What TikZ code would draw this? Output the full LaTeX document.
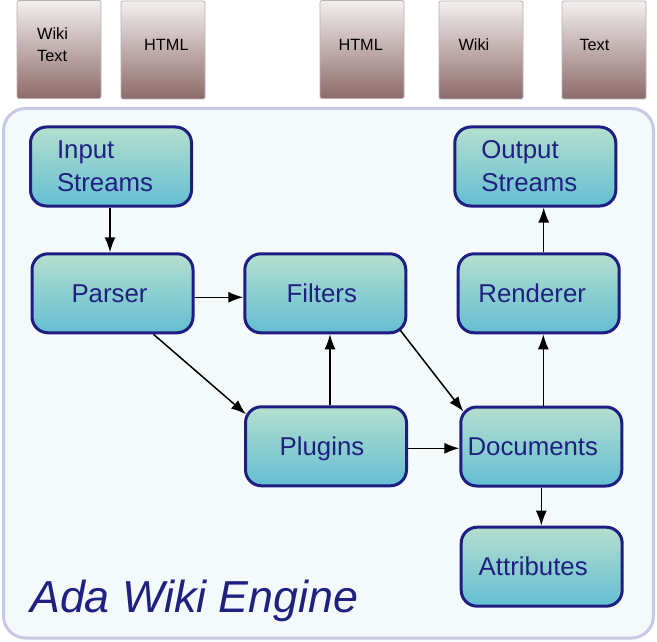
\documentclass[tikz,border=0pt]{standalone}
\usepackage{fontspec}
\setmainfont{Liberation Sans}
\usetikzlibrary{arrows.meta}
\definecolor{navyline}{RGB}{30,30,130}
\definecolor{navytext}{RGB}{32,32,128}
\definecolor{boxtop}{RGB}{180,223,206}
\definecolor{boxbot}{RGB}{100,190,210}
\definecolor{doctop}{RGB}{243,239,239}
\definecolor{docbot}{RGB}{142,106,106}
\definecolor{docline}{RGB}{190,175,175}
\definecolor{contfill}{RGB}{244,249,250}
\definecolor{contline}{RGB}{200,200,226}
\tikzset{
  docbox/.style={draw=docline, line width=0.8pt, rounded corners=2pt,
    top color=doctop, bottom color=docbot, minimum width=84pt, minimum height=98pt, inner sep=0pt},
  doclbl/.style={inner sep=0pt, anchor=base west, font=\fontsize{16.3}{19}\selectfont, text=black},
  compbox/.style={draw=navyline, line width=3pt, rounded corners=16pt,
    top color=boxtop, bottom color=boxbot, minimum width=161pt, minimum height=79pt,
    inner sep=0pt, text=navytext, font=\fontsize{25.8}{32}\selectfont},
  oneline/.style={compbox, text height=18.5pt, text depth=0pt},
  twoline/.style={compbox, align=left, text width=108pt},
  arr/.style={-{Latex[length=15pt,width=11pt]}, line width=1.5pt, black},
}
\begin{document}
\begin{tikzpicture}[x=1pt,y=-1pt]
\useasboundingbox (0,0) rectangle (657,642);
\fill[white] (0,0) rectangle (657,642);
% container
\draw[fill=contfill, draw=contline, line width=3pt, rounded corners=22pt]
  (3.5,108.5) rectangle (653.5,638) ;
% top document boxes
\node[docbox] (doc1) at (59,49.5) {};
\node[docbox] (doc2) at (163,50) {};
\node[docbox] (doc3) at (362,49.5) {};
\node[docbox] (doc4) at (481,50) {};
\node[docbox] (doc5) at (604,50) {};
\node[doclbl] (lbl1a) at (37,40) {Wiki};
\node[doclbl] (lbl1b) at (37,61.7) {Text};
\node[doclbl] (lbl2) at (144,50.7) {HTML};
\node[doclbl] (lbl3) at (338.3,50.7) {HTML};
\node[doclbl] (lbl4) at (458.3,50.7) {Wiki};
\node[doclbl] (lbl5) at (579.3,50.7) {Text};
% components
\node[twoline] (input) at (111,166.5) {\vspace*{1pt}Input\\Streams};
\node[twoline] (output) at (535.3,166.5) {\vspace*{1pt}Output\\Streams};
\node[oneline] (parser) at (112.5,293.3) {Parser\kern6pt};
\node[oneline] (filters) at (325.3,293.3) {Filters\kern7pt};
\node[oneline] (renderer) at (538.7,293.3) {Renderer\kern13pt};
\node[oneline] (plugins) at (326,446.3) {Plugins\kern8pt};
\node[oneline] (documents) at (541.3,446.5) {Documents\kern17pt};
\node[oneline] (attributes) at (541.7,566.7) {Attributes\kern17pt};
% title
\node[inner sep=0pt, anchor=base west, text=navytext, font=\fontsize{44.8}{50}\selectfont\itshape]
  (title) at (30,612.3) {Ada Wiki Engine};
% connectors
\draw[arr] ([xshift=-1pt]input.south) -- ([xshift=-1pt]input.south |- parser.north);
\draw[arr] ([yshift=-4pt]parser.east) -- ([yshift=-4pt]filters.west);
\draw[arr] ([xshift=41pt]parser.south) -- ([xshift=2pt,yshift=-9pt]plugins.north west);
\draw[arr] ([xshift=4pt]plugins.north) -- ([xshift=4pt]plugins.north |- filters.south);
\draw[arr] ([xshift=-7pt,yshift=4pt]filters.south east) -- ([xshift=4pt,yshift=-6pt]documents.north west);
\draw[arr] ([yshift=-2pt]plugins.east) -- ([yshift=-2pt]plugins.east -| documents.west);
\draw[arr] ([xshift=2pt]documents.north) -- ([xshift=2pt]documents.north |- renderer.south);
\draw[arr] ([xshift=5pt]renderer.north) -- ([xshift=5pt]renderer.north |- output.south);
\draw[arr] (documents.south) -- (documents.south |- attributes.north);
\end{tikzpicture}
\end{document}
